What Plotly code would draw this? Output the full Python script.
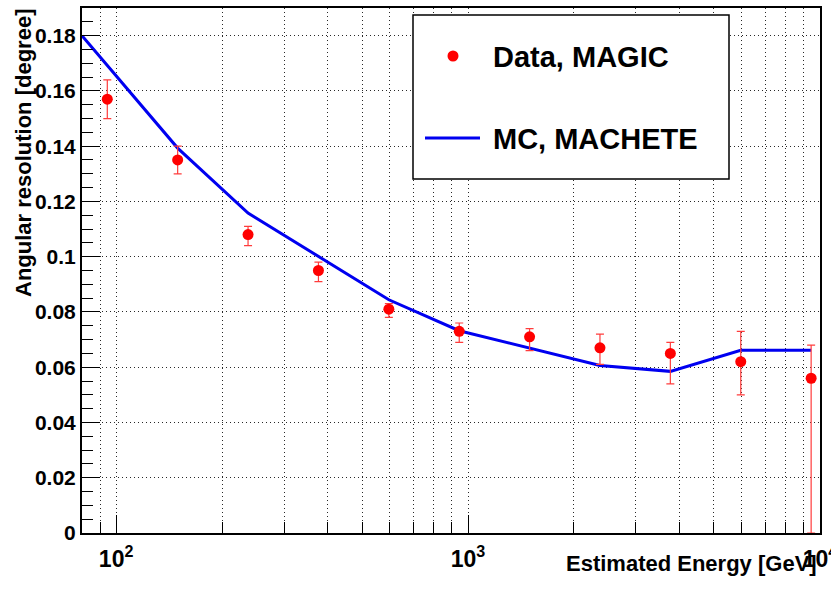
import math
import plotly.graph_objects as go

# ---- data ----
energy = [94.4, 149.6, 237.1, 375.8, 595.7, 944.1, 1496, 2371, 3758, 5957, 9441]
res_data = [0.157, 0.135, 0.108, 0.095, 0.081, 0.073, 0.071, 0.067, 0.065, 0.062, 0.056]
err_plus = [0.007, 0.005, 0.003, 0.003, 0.002, 0.003, 0.003, 0.005, 0.004, 0.011, 0.012]
err_minus = [0.007, 0.005, 0.004, 0.004, 0.003, 0.004, 0.005, 0.006, 0.011, 0.012, 0.056]

mc_energy = [80, 149.6, 237.1, 375.8, 595.7, 944.1, 1496, 2371, 3758, 5957, 9441]
mc_res = [0.180, 0.1393, 0.1158, 0.1000, 0.0844, 0.0732, 0.0669, 0.0606, 0.0585, 0.0661, 0.0661]

x_major = [100, 1000, 10000]
x_major_text = ["10<sup>2</sup>", "10<sup>3</sup>", "10<sup>4</sup>"]
x_minor = [80, 90] + [m * 100 for m in range(2, 10)] + [m * 1000 for m in range(2, 10)]

legend_labels = ["Data, MAGIC", "MC, MACHETE"]

# ---- layout geometry (pixels) ----
W, H = 831, 590
L, R, T, B = 82, 11, 8, 57
PW, PH = W - L - R, H - T - B


def px(x):
    return (x - L) / PW


def py(y):
    return (H - B - y) / PH


FONT = "Liberation Sans, Arial, Helvetica, sans-serif"

fig = go.Figure()

fig.add_trace(go.Scatter(
    x=mc_energy, y=mc_res, mode="lines",
    line=dict(color="rgb(0,0,240)", width=3),
    showlegend=False,
))

fig.add_trace(go.Scatter(
    x=energy, y=res_data, mode="markers",
    marker=dict(color="red", size=11, symbol="circle"),
    error_y=dict(type="data", symmetric=False, array=err_plus, arrayminus=err_minus,
                 color="rgb(255,60,60)", thickness=1.2, width=4),
    showlegend=False,
))

grid = dict(gridcolor="rgb(40,40,40)", gridwidth=1, griddash="1px,3px", showgrid=True)

fig.update_xaxes(
    type="log",
    range=[math.log10(80), 4.0002],
    tickmode="array", tickvals=x_major, ticktext=x_major_text,
    ticks="inside", ticklen=18, tickwidth=1, tickcolor="black",
    showline=True, linecolor="black", linewidth=2, mirror=True,
    tickfont=dict(family=FONT, size=23, color="black", weight="bold"),
    ticklabeloverflow="allow",
    ticklabelstandoff=4,
    automargin=False,
    zeroline=False,
    minor=dict(tickmode="array", tickvals=x_minor, ticks="inside", ticklen=11,
               tickcolor="black", tickwidth=1, showgrid=True,
               gridcolor="rgb(40,40,40)", gridwidth=1, griddash="1px,3px"),
    **grid,
)

fig.update_yaxes(
    range=[0, 0.19],
    dtick=0.02, tick0=0,
    ticks="inside", ticklen=18, tickwidth=1, tickcolor="black",
    showline=True, linecolor="black", linewidth=2, mirror=True,
    tickfont=dict(family=FONT, size=21, color="black", weight="bold"),
    automargin=False,
    zeroline=False,
    minor=dict(dtick=0.005, ticks="inside", ticklen=11, tickcolor="black",
               tickwidth=1, showgrid=False),
    **grid,
)

shapes = [
    # legend box
    dict(type="rect", xref="paper", yref="paper",
         x0=px(413), x1=px(729), y0=py(179), y1=py(15),
         line=dict(color="black", width=1.5), fillcolor="white", layer="above"),
    # legend marker
    dict(type="circle", xref="paper", yref="paper",
         x0=px(453 - 5.5), x1=px(453 + 5.5), y0=py(56 + 5.5), y1=py(56 - 5.5),
         line=dict(color="red", width=0), fillcolor="red", layer="above"),
    # legend line sample
    dict(type="line", xref="paper", yref="paper",
         x0=px(425), x1=px(480), y0=py(138), y1=py(138),
         line=dict(color="rgb(0,0,240)", width=3), layer="above"),
]

annotations = [
    dict(text=legend_labels[0], xref="paper", yref="paper", x=px(491), y=py(57),
         xanchor="left", yanchor="middle", showarrow=False,
         font=dict(family=FONT, size=29, color="black", weight="bold")),
    dict(text=legend_labels[1], xref="paper", yref="paper", x=px(491), y=py(139),
         xanchor="left", yanchor="middle", showarrow=False,
         font=dict(family=FONT, size=29, color="black", weight="bold")),
    dict(text="Angular resolution [degree]", xref="paper", yref="paper",
         x=px(23), y=py(7), xanchor="center", yanchor="top", textangle=-90,
         showarrow=False, font=dict(family=FONT, size=22, color="black", weight="bold")),
    dict(text="Estimated Energy [GeV]", xref="paper", yref="paper",
         x=px(819), y=py(563), xanchor="right", yanchor="middle",
         showarrow=False, font=dict(family=FONT, size=22, color="black", weight="bold")),
]

fig.update_layout(
    width=W, height=H,
    margin=dict(l=L, r=R, t=T, b=B, autoexpand=False),
    paper_bgcolor="white", plot_bgcolor="white",
    shapes=shapes, annotations=annotations,
    showlegend=False,
)

fig.write_html("out.html")
